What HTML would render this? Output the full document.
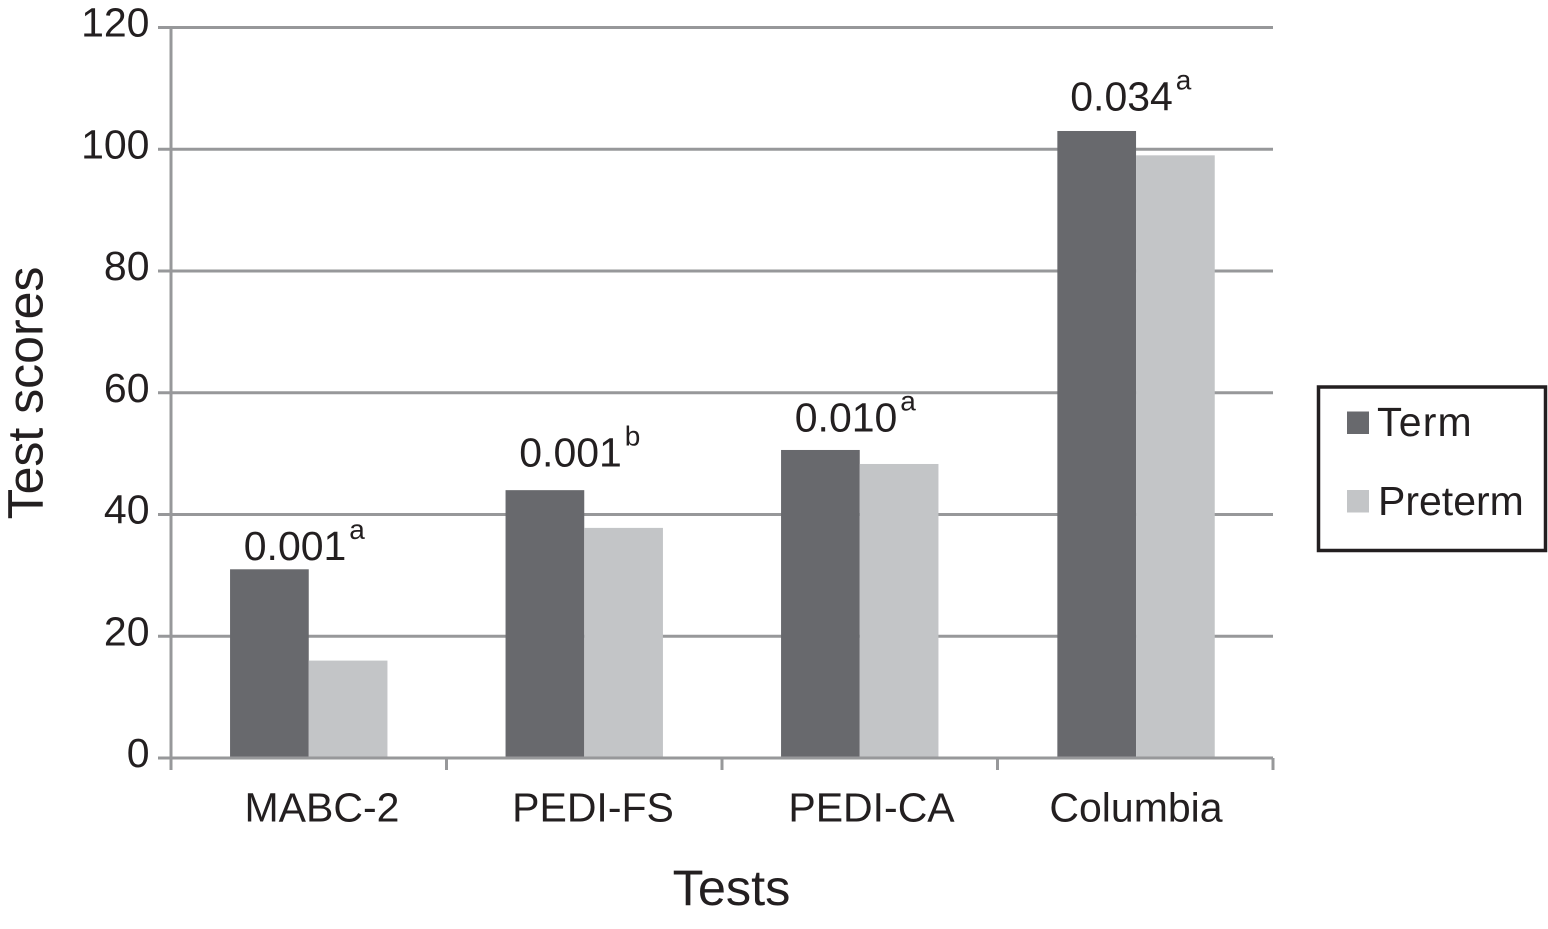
<!DOCTYPE html>
<html>
<head>
<meta charset="utf-8">
<style>
html,body{margin:0;padding:0;background:#fff;width:1548px;height:929px;overflow:hidden}
svg{display:block;font-family:"Liberation Sans",Arial,sans-serif;fill:#231f20}
</style>
</head>
<body>
<svg id="chart" width="1548" height="929" viewBox="0 0 1548 929" xmlns="http://www.w3.org/2000/svg"></svg>
<script>
const categories = ["MABC-2", "PEDI-FS", "PEDI-CA", "Columbia"];
const termValues = [31, 44, 50.6, 103];
const pretermValues = [16, 37.8, 48.3, 99];
const pValues = ["0.001", "0.001", "0.010", "0.034"];
const pMarks = ["a", "b", "a", "a"];
const yTicks = [0, 20, 40, 60, 80, 100, 120];

const svg = document.getElementById('chart');
const NS = 'http://www.w3.org/2000/svg';
const plotLeft = 171, plotRight = 1273, plotTop = 27.5, plotBottom = 758;
const yMax = 120;
// Layout nudges per category (hand placement in the original figure)
const labelNudge = [13.25, 8.75, 11.75, 0.75];
const barNudge = [0, 0, 0, 0.8];
const annotationLift = [9.5, 23.5, 18.5, 20.5];

function yScale(v){ return plotBottom - (v / yMax) * (plotBottom - plotTop); }
function bandWidth(){ return (plotRight - plotLeft) / categories.length; }
function xBand(i){ return plotLeft + bandWidth() * i; }
function make(tag, attrs, text){
  const el = document.createElementNS(NS, tag);
  for (const k in attrs) el.setAttribute(k, attrs[k]);
  if (text !== undefined) el.textContent = text;
  svg.appendChild(el);
  return el;
}
const axisColor = '#97989a';
const termColor = '#68696d';
const pretermColor = '#c3c5c7';

yTicks.forEach(function(t){
  const y = yScale(t);
  if (t !== 0) {
    const g = make('line', {x1: plotLeft, x2: plotRight, y1: y, y2: y, stroke: axisColor, 'stroke-width': 3});
    
    
  }
  const tick = make('line', {x1: plotLeft - 13, x2: plotLeft, y1: y, y2: y, stroke: axisColor, 'stroke-width': 3});
  
  
  const lab = make('text', {x: 149.5, y: y + 9, 'text-anchor': 'end', 'font-size': 41}, String(t));
  
  
});

categories.forEach(function(c, i){
  const bw = 78.7;
  const cx = xBand(i) + bandWidth() / 2;
  const yT = yScale(termValues[i]);
  const yP = yScale(pretermValues[i]);
  const r1 = make('rect', {x: cx - bw + barNudge[i], y: yT, width: bw, height: plotBottom - yT, fill: termColor});
  
  
  const r2 = make('rect', {x: cx + barNudge[i], y: yP, width: bw, height: plotBottom - yP, fill: pretermColor});
  
  
  const lab = make('text', {x: cx + labelNudge[i], y: 821.5, 'text-anchor': 'middle', 'font-size': 41}, c);
  
  
  const baseY = yT - annotationLift[i];
  const p = make('text', {x: cx - 65, y: baseY, 'font-size': 41}, pValues[i]);
  
  
  const m = make('text', {x: cx + 40.5, y: baseY - 21, 'font-size': 28}, pMarks[i]);
  
  
});

const yAxis = make('line', {x1: plotLeft, x2: plotLeft, y1: plotTop - 1.5, y2: plotBottom + 12, stroke: axisColor, 'stroke-width': 3});


const xAxis = make('line', {x1: plotLeft - 13, x2: plotRight, y1: plotBottom, y2: plotBottom, stroke: axisColor, 'stroke-width': 3});


for (let i = 1; i <= categories.length; i++) {
  const x = xBand(i);
  const t = make('line', {x1: x, x2: x, y1: plotBottom, y2: plotBottom + 12, stroke: axisColor, 'stroke-width': 3});
  
  
}

const xTitle = make('text', {x: 731.5, y: 905, 'text-anchor': 'middle', 'font-size': 50.5}, 'Tests');


const yTitle = make('text', {x: 0, y: 0, 'text-anchor': 'middle', 'font-size': 50, transform: 'translate(42.5 393) rotate(-90)'}, 'Test scores');



const box = make('rect', {x: 1318.5, y: 387, width: 227, height: 163.5, fill: '#fff', stroke: '#231f20', 'stroke-width': 3.5});


const s1 = make('rect', {x: 1347, y: 411.5, width: 22, height: 22.5, fill: termColor});


const l1 = make('text', {x: 1377, y: 436, 'font-size': 41, 'letter-spacing': 1.2}, 'Term');


const s2 = make('rect', {x: 1347, y: 490, width: 22, height: 22.5, fill: pretermColor});


const l2 = make('text', {x: 1378, y: 515, 'font-size': 41}, 'Preterm');


</script>
</body>
</html>
